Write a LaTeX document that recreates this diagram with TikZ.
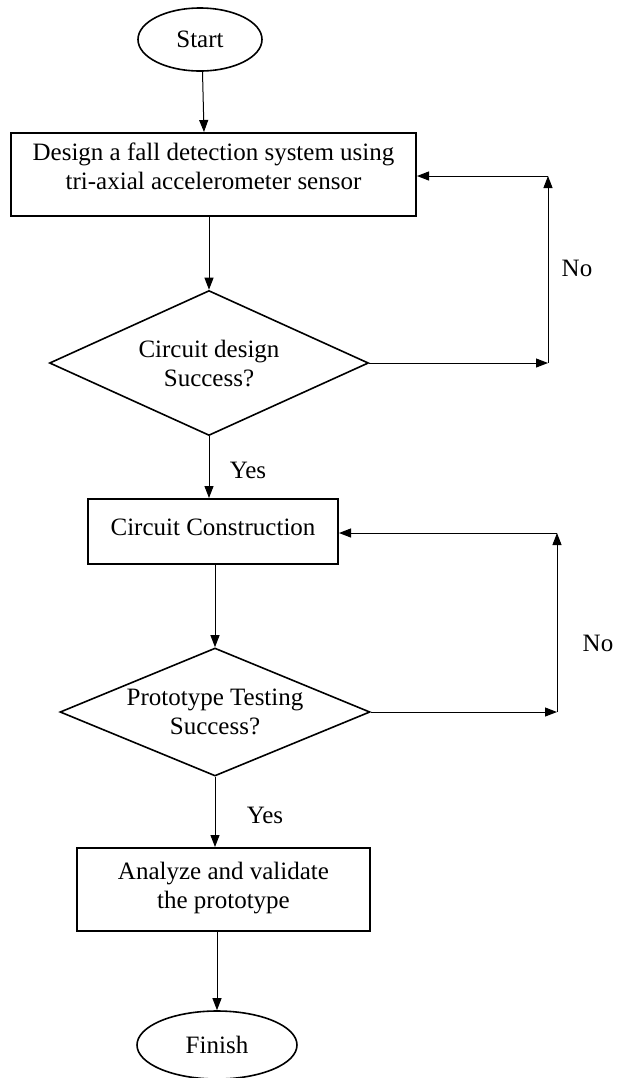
\documentclass[tikz,border=0pt]{standalone}
\usepackage{fontspec}
\setmainfont{Liberation Serif}
\usepackage{tikz}
\usetikzlibrary{arrows.meta, positioning, shapes.geometric, calc}

\begin{document}
\begin{tikzpicture}[x=0.5pt, y=-0.5pt,
    every node/.style={font=\fontsize{12.5}{14.5}\selectfont},
    terminal/.style={draw, ellipse, line width=0.8pt, inner sep=0pt},
    process/.style={draw, rectangle, line width=1pt, inner sep=0pt, align=center},
    decision/.style={draw, diamond, line width=0.8pt, inner sep=0pt, align=center},
    flow/.style={-{Triangle[length=6pt, width=4.5pt]}, line width=0.5pt}]
  \useasboundingbox (0,0) rectangle (618,1078);

  % Start and first design step
  \node[terminal, minimum width=62pt, minimum height=31.5pt] (start) at (200,39.5) {Start};
  \node[process, minimum width=202.5pt, minimum height=41.5pt, text depth=8.5pt] (design) at (213.5,174.5)
    {Design a fall detection system using\\tri-axial accelerometer sensor};

  % First check
  \node[decision, aspect=2.2, minimum width=159.5pt, minimum height=72.5pt] (dcircuit) at (209,363)
    {Circuit design\\Success?};

  % Construction
  \node[process, minimum width=125pt, minimum height=32.5pt, text depth=4.5pt] (build) at (213,531.5)
    {Circuit Construction};

  % Second check
  \node[decision, aspect=2.42, minimum width=155pt, minimum height=64pt] (dtest) at (215,712)
    {Prototype Testing\\Success?};

  % Analysis and end
  \node[process, minimum width=146.5pt, minimum height=41.5pt, text depth=4.5pt] (analyze) at (223.5,889.5)
    {Analyze and validate\\the prototype};
  \node[terminal, minimum width=80pt, minimum height=34pt] (finish) at (217,1045) {Finish};

  % Main flow
  \draw[flow] ($(start.south)+(2.5,0)$) -- ($(start.south |- design.north)+(4,0)$);
  \draw[flow] (dcircuit.north |- design.south) -- (dcircuit.north);
  \draw[flow] (dcircuit.south) -- (dcircuit.south |- build.north);
  \draw[flow] (dtest.north |- build.south) -- (dtest.north);
  \draw[flow] (dtest.south) -- (dtest.south |- analyze.north);
  \draw[flow] (finish.north |- analyze.south) -- (finish.north);

  % Loop back after circuit design
  \coordinate (loopa) at (548,363);
  \coordinate (loopatop) at (548,176);
  \draw[flow] (dcircuit.east) -- (loopa);
  \draw[flow] (loopa) -- (loopatop);
  \draw[flow] (loopatop) -- (loopatop -| design.east);

  % Loop back after testing
  \coordinate (loopb) at (557,712);
  \coordinate (loopbtop) at (557,533);
  \draw[flow] (dtest.east) -- (loopb);
  \draw[flow] (loopb) -- (loopbtop);
  \draw[flow] (loopbtop) -- (loopbtop -| build.east);

  % Labels
  \node (noa) at (577,268) {No};
  \node (nob) at (598,643) {No};
  \node (yesa) at (248,470) {Yes};
  \node (yesb) at (265,815) {Yes};
\end{tikzpicture}
\end{document}
